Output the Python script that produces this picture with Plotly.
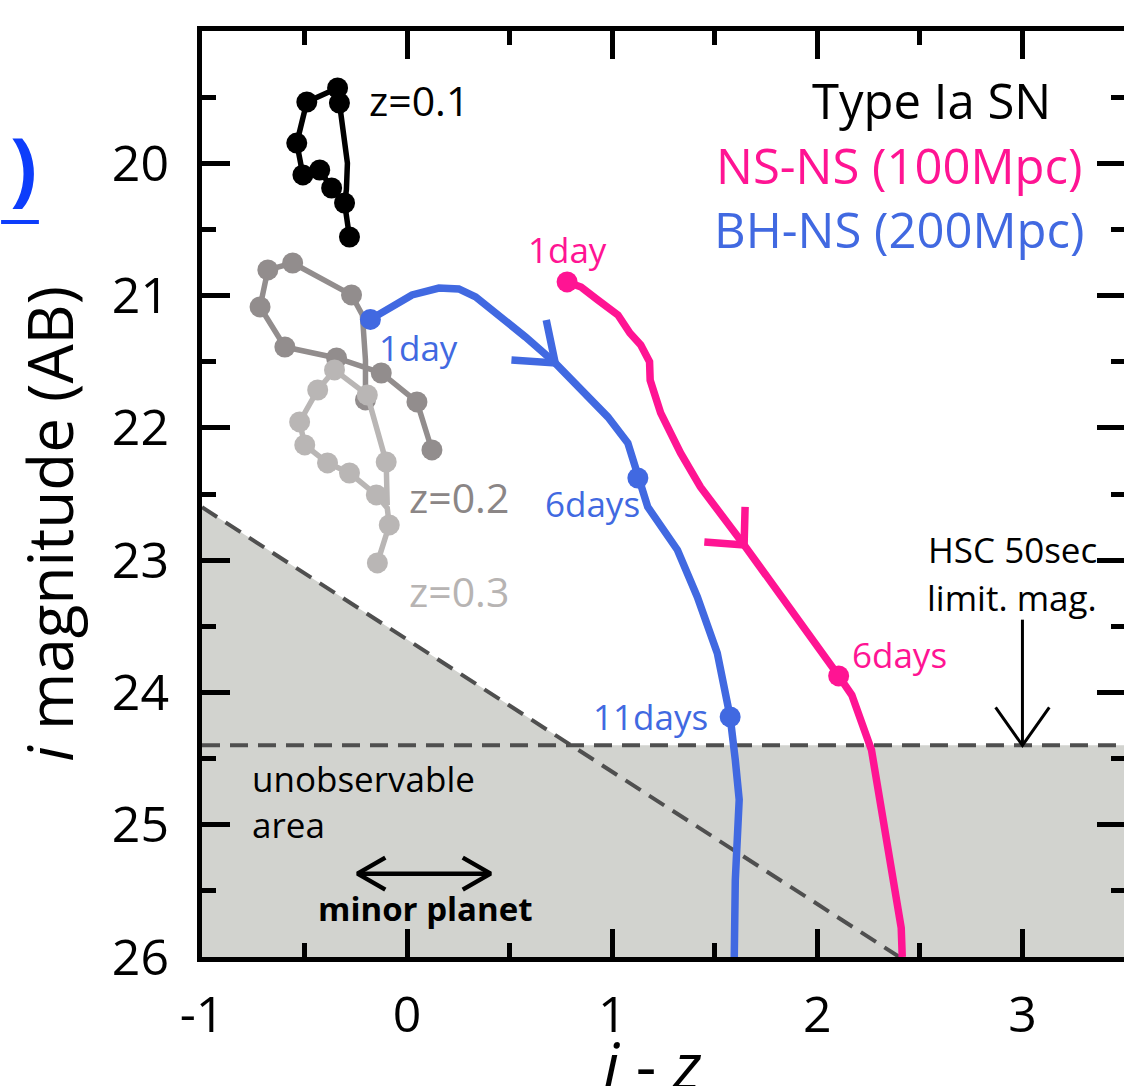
import plotly.graph_objects as go

# ---------------- data ----------------
# Type Ia SN tracks (i-z colour, i magnitude); *_EPOCHS index the sampled epochs
SN01_IZ = [-0.281, -0.305, -0.368, -0.426, -0.508, -0.538, -0.489, -0.339, -0.330,
           -0.305, -0.291, -0.296, -0.305]
SN01_MAG = [20.557, 20.300, 20.187, 20.051, 20.088, 19.847, 19.537, 19.431, 19.544,
            19.800, 19.998, 20.200, 20.300]
SN01_EPOCHS = [0, 1, 2, 3, 4, 5, 6, 7, 8]

SN02_IZ = [0.121, 0.048, -0.126, -0.344, -0.596, -0.717, -0.679, -0.558, -0.271,
           -0.218, -0.203, -0.203]
SN02_MAG = [22.167, 21.804, 21.585, 21.472, 21.389, 21.086, 20.806, 20.754, 20.995,
            21.147, 21.487, 21.789]
SN02_EPOCHS = [0, 1, 2, 3, 4, 5, 6, 7, 8, 11]

SN03_IZ = [-0.145, -0.087, -0.097, -0.150, -0.281, -0.388, -0.499, -0.524, -0.436,
           -0.354, -0.194, -0.102, -0.097]
SN03_MAG = [23.021, 22.734, 22.605, 22.507, 22.341, 22.265, 22.129, 21.955, 21.714,
            21.562, 21.751, 22.258, 22.583]
SN03_EPOCHS = [0, 1, 3, 4, 5, 6, 7, 8, 9, 10, 11]

# BH-NS merger at 200 Mpc
BHNS_IZ = [-0.179, -0.087, 0.024, 0.155, 0.252, 0.334, 0.446, 0.577, 0.722, 0.848,
           0.979, 1.076, 1.125, 1.173, 1.318, 1.415, 1.512, 1.575, 1.600, 1.619,
           1.600, 1.595]
BHNS_MAG = [21.180, 21.094, 20.995, 20.943, 20.950, 21.010, 21.147, 21.313, 21.510,
            21.713, 21.918, 22.114, 22.379, 22.598, 22.923, 23.278, 23.701, 24.185,
            24.510, 24.810, 25.420, 26.000]
BHNS_DAYS = {0: "1day", 12: "6days", 17: "11days"}
BHNS_ARROW_AT = 8

# NS-NS merger at 100 Mpc
NSNS_IZ = [0.780, 0.848, 0.930, 1.028, 1.086, 1.139, 1.182, 1.185, 1.236, 1.333,
           1.430, 1.643, 2.104, 2.168, 2.264, 2.322, 2.376, 2.409, 2.414]
NSNS_MAG = [20.897, 20.935, 21.033, 21.147, 21.283, 21.373, 21.500, 21.640, 21.887,
            22.190, 22.447, 22.885, 23.875, 24.020, 24.435, 24.960, 25.420, 25.780,
            26.000]
NSNS_DAYS = {0: "1day", 12: "6days"}
NSNS_ARROW_AT = 11

# Observability limits
HSC_LIMIT_MAG = 24.4          # HSC 50 s limiting magnitude
DIAG_MAG_AT_LEFT = 22.6       # colour-dependent cut, magnitude at i-z = -1
DIAG_SLOPE = 1.0              # mag per unit of i-z
MINOR_PLANET_IZ = [-0.242, 0.407]
MINOR_PLANET_MAG = 25.37

X_TICKS = [-1, 0, 1, 2, 3]
X_TICK_TEXT = ["-1", "0", "1", "2", "3"]
Y_TICKS = [19, 20, 21, 22, 23, 24, 25, 26]
X_RANGE = [-1, 3.5]
Y_RANGE = [26, 19]

# ---------------- style ----------------
FONT = "Open Sans"
BLACK = "#000000"
GRAY2 = "#928d8d"
GRAY3 = "#b9b6b5"
BLUE = "#4169e1"
PINK = "#ff1493"
SHADE = "#d2d3cf"
DASH = "#4f4f4f"

L, T = 202, 31
PW, PH = 928, 926
W, H = L + PW, 1086


def px2paper_x(px):
    return (px - L) / PW


def py2paper_y(py):
    return 1 - (py - T) / PH


fig = go.Figure()

# shaded unobservable area and its dashed borders
x_cross = -1 + (HSC_LIMIT_MAG - DIAG_MAG_AT_LEFT) / DIAG_SLOPE
x_bottom = -1 + (Y_RANGE[0] - DIAG_MAG_AT_LEFT) / DIAG_SLOPE
fig.add_trace(go.Scatter(
    x=[X_RANGE[0], x_cross, X_RANGE[1], X_RANGE[1], X_RANGE[0]],
    y=[DIAG_MAG_AT_LEFT, HSC_LIMIT_MAG, HSC_LIMIT_MAG, Y_RANGE[0], Y_RANGE[0]],
    fill="toself", fillcolor=SHADE, mode="none", hoverinfo="skip"))
fig.add_trace(go.Scatter(
    x=[X_RANGE[0], X_RANGE[1]], y=[HSC_LIMIT_MAG, HSC_LIMIT_MAG], mode="lines",
    line=dict(color=DASH, width=4, dash="18px,10px"), hoverinfo="skip"))
fig.add_trace(go.Scatter(
    x=[X_RANGE[0], x_bottom], y=[DIAG_MAG_AT_LEFT, Y_RANGE[0]], mode="lines",
    line=dict(color=DASH, width=4, dash="18px,10px"), hoverinfo="skip"))


def sn_track(xs, ys, epochs, color):
    fig.add_trace(go.Scatter(x=xs, y=ys, mode="lines",
                             line=dict(color=color, width=5.5), hoverinfo="skip"))
    fig.add_trace(go.Scatter(x=[xs[i] for i in epochs], y=[ys[i] for i in epochs],
                             mode="markers", marker=dict(color=color, size=21),
                             hoverinfo="skip"))


sn_track(SN02_IZ, SN02_MAG, SN02_EPOCHS, GRAY2)
sn_track(SN03_IZ, SN03_MAG, SN03_EPOCHS, GRAY3)
sn_track(SN01_IZ, SN01_MAG, SN01_EPOCHS, BLACK)


def chevron(x0, y0, arms, color, width):
    # arms: list of (dx_px, dy_px) offsets converted into axis units
    sx = (X_RANGE[1] - X_RANGE[0]) / PW
    sy = (Y_RANGE[0] - Y_RANGE[1]) / PH
    (ax1, ay1), (ax2, ay2) = arms
    fig.add_trace(go.Scatter(
        x=[x0 + ax1 * sx, x0, x0 + ax2 * sx],
        y=[y0 + ay1 * sy, y0, y0 + ay2 * sy],
        mode="lines", line=dict(color=color, width=width), hoverinfo="skip"))


def kilonova(xs, ys, days, color, arrow_at, arms):
    fig.add_trace(go.Scatter(x=xs, y=ys, mode="lines",
                             line=dict(color=color, width=7.5), hoverinfo="skip"))
    fig.add_trace(go.Scatter(x=[xs[i] for i in days], y=[ys[i] for i in days],
                             mode="markers", marker=dict(color=color, size=21),
                             hoverinfo="skip"))
    chevron(xs[arrow_at], ys[arrow_at], arms, color, 7.5)


kilonova(BHNS_IZ, BHNS_MAG, BHNS_DAYS, BLUE, BHNS_ARROW_AT, [(-44, -3), (-9, -43)])
kilonova(NSNS_IZ, NSNS_MAG, NSNS_DAYS, PINK, NSNS_ARROW_AT, [(-40, -3), (1, -38)])

# HSC limiting magnitude arrow
fig.add_trace(go.Scatter(x=[3, 3], y=[23.45, HSC_LIMIT_MAG], mode="lines",
                         line=dict(color=BLACK, width=3), hoverinfo="skip"))
chevron(3, HSC_LIMIT_MAG, [(-27, -38), (27, -38)], BLACK, 3)

# minor planet double arrow
fig.add_trace(go.Scatter(x=MINOR_PLANET_IZ, y=[MINOR_PLANET_MAG] * 2, mode="lines",
                         line=dict(color=BLACK, width=4.5), hoverinfo="skip"))
chevron(MINOR_PLANET_IZ[0], MINOR_PLANET_MAG, [(28, -16), (28, 16)], BLACK, 4.5)
chevron(MINOR_PLANET_IZ[1], MINOR_PLANET_MAG, [(-28, -16), (-28, 16)], BLACK, 4.5)


def label(x, y, text, color, size, xanchor="left", bold=False):
    fig.add_annotation(x=x, y=y, text=f"<b>{text}</b>" if bold else text,
                       showarrow=False, xanchor=xanchor, yanchor="middle",
                       font=dict(family=FONT, size=size, color=color))


label(-0.194, 19.52, "z=0.1", BLACK, 41)
label(0.0, 22.52, "z=0.2", "#8b8686", 41)
label(0.0, 23.23, "z=0.3", "#b7b4b3", 41)

label(NSNS_IZ[0], 20.65, NSNS_DAYS[0], PINK, 35, "center")
label(2.157, 23.71, NSNS_DAYS[12], PINK, 35)
label(-0.145, 21.39, BHNS_DAYS[0], BLUE, 35)
label(1.145, 22.57, BHNS_DAYS[12], BLUE, 35, "right")
label(1.479, 24.185, BHNS_DAYS[17], BLUE, 35, "right")

label(3.147, 19.52, "Type Ia SN", BLACK, 49, "right")
label(3.306, 20.01, "NS-NS (100Mpc)", PINK, 49, "right")
label(3.316, 20.50, "BH-NS (200Mpc)", BLUE, 49, "right")

label(2.95, 22.92, "HSC 50sec", BLACK, 35, "center")
label(2.95, 23.28, "limit. mag.", BLACK, 35, "center")

label(-0.766, 24.65, "unobservable", BLACK, 35)
label(-0.766, 25.00, "area", BLACK, 35)
label(0.088, 25.63, "minor planet", BLACK, 33, "center", bold=True)

# axis titles
fig.add_annotation(xref="paper", yref="paper", x=px2paper_x(48), y=py2paper_y(524),
                   text="<i>i</i> magnitude (AB)", textangle=-90, showarrow=False,
                   xanchor="center", yanchor="middle",
                   font=dict(family=FONT, size=62, color=BLACK))
fig.add_annotation(xref="paper", yref="paper", x=px2paper_x(655), y=py2paper_y(1064),
                   text="<i>i</i> - <i>z</i>", showarrow=False,
                   xanchor="center", yanchor="middle",
                   font=dict(family=FONT, size=64, color=BLACK))

# fragment of link text at the left edge
fig.add_annotation(xref="paper", yref="paper", x=px2paper_x(23), y=py2paper_y(165),
                   text="<b>)</b>", showarrow=False, xanchor="center", yanchor="middle",
                   font=dict(family=FONT, size=80, color="#0d3dfb"))
fig.add_shape(type="line", xref="paper", yref="paper",
              x0=px2paper_x(0), x1=px2paper_x(38), y0=py2paper_y(222), y1=py2paper_y(222),
              line=dict(color="#0d3dfb", width=4))

axis_common = dict(
    showgrid=False, zeroline=False, showline=True, linecolor=BLACK, linewidth=5,
    mirror="ticks", ticks="inside", ticklen=28, tickwidth=5, tickcolor=BLACK,
    tickfont=dict(family=FONT, size=50, color=BLACK),
    minor=dict(ticks="inside", ticklen=14, tickwidth=5, tickcolor=BLACK, dtick=0.5),
)
fig.update_xaxes(range=X_RANGE, tickvals=X_TICKS, ticktext=X_TICK_TEXT,
                 ticklabelstandoff=10, **axis_common)
fig.update_yaxes(range=Y_RANGE, tickvals=Y_TICKS, ticklabelstandoff=18, **axis_common)

fig.update_layout(
    width=W, height=H, showlegend=False,
    margin=dict(l=L, r=W - L - PW, t=T, b=H - T - PH, pad=0),
    plot_bgcolor="white", paper_bgcolor="white",
    font=dict(family=FONT),
)

fig.write_html("out.html",
               post_script="document.body.style.margin='0';"
                           "document.body.style.overflow='hidden';")
